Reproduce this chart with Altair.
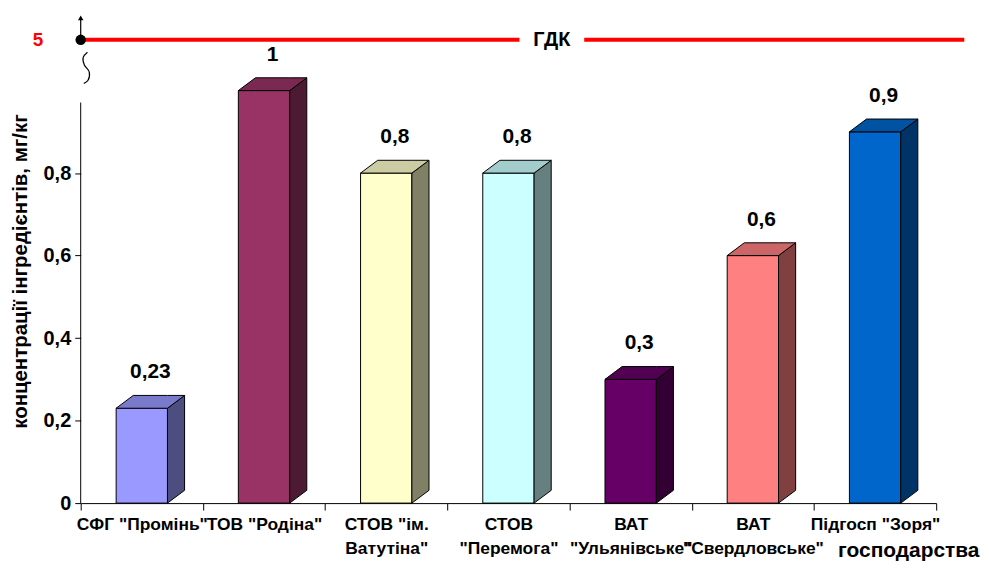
import altair as alt
import pandas as pd

# ---------------- data ----------------
categories = ['СФГ "Промінь"', 'ТОВ "Родіна"', 'СТОВ "ім.|Ватутіна"', 'СТОВ|"Перемога"',
              'ВАТ|"Ульянівське"', 'ВАТ|"Свердловське"', 'Підгосп "Зоря"']
values = [0.23, 1.0, 0.8, 0.8, 0.3, 0.6, 0.9]
value_text = ["0,23", "1", "0,8", "0,8", "0,3", "0,6", "0,9"]
front_colors = ["#9999FF", "#993366", "#FFFFCC", "#CCFFFF", "#660066", "#FF8080", "#0066CC"]
top_colors = ["#7A7ACC", "#7A2952", "#CCCCA3", "#A3CCCC", "#520052", "#CC6666", "#0052A3"]
side_colors = ["#4D4D80", "#4D1A33", "#808066", "#668080", "#330033", "#804040", "#003366"]
y_ticks = [0, 0.2, 0.4, 0.6, 0.8]
gdk_value_text = "5"
gdk_title = "ГДК"
y_title = "концентрації інгредієнтів, мг/кг"
x_title = "господарства"

# ---------------- layout params ----------------
FONT = "Liberation Sans"
BAR_L, BAR_R = 0.29, 0.71     # front face within band
DX, DY = 0.14, 0.031          # 3-D depth
Y_TOP = 1.125
AXIS_TOP = 0.971
GDK_POS = 1.123               # drawn position of the broken-axis value
ARROW_TOP = 1.176
GDK_SEGS = [(0.0, 3.59), (4.12, 7.23)]
GDK_TEXT_X = 3.855

xs = alt.Scale(domain=[0, 7], nice=False, zero=False)
ys = alt.Scale(domain=[0, Y_TOP], nice=False, zero=False)

n = len(categories)
front_df = pd.DataFrame({
    "i": list(range(n)),
    "x0": [i + BAR_L for i in range(n)],
    "x1": [i + BAR_R for i in range(n)],
    "y0": [0.0] * n,
    "v": values,
    "c": front_colors,
})
side_rows, top_rows = [], []
for i, v in enumerate(values):
    xr, xl = i + BAR_R, i + BAR_L
    side_rows += [dict(i=i, x=xr, lo=0.0, hi=v, c=side_colors[i]),
                  dict(i=i, x=xr + DX, lo=DY, hi=v + DY, c=side_colors[i])]
    top_rows += [dict(i=i, x=xl, lo=v, hi=v, c=top_colors[i]),
                 dict(i=i, x=xl + DX, lo=v, hi=v + DY, c=top_colors[i]),
                 dict(i=i, x=xr, lo=v, hi=v + DY, c=top_colors[i]),
                 dict(i=i, x=xr + DX, lo=v + DY, hi=v + DY, c=top_colors[i])]
side_df = pd.DataFrame(side_rows)
top_df = pd.DataFrame(top_rows)
label_df = pd.DataFrame({"x": [i + 0.5 + DX / 2 for i in range(n)], "v": values, "t": value_text})

tick_vals = [k / 2 for k in range(2 * n + 1)]
names_js = "['" + "','".join(categories) + "']"
label_expr = f"datum.value % 1 != 0 ? split({names_js}[floor(datum.value)], '|') : ''"

x_axis = alt.Axis(
    values=tick_vals, labelExpr=label_expr,
    tickOpacity={"condition": {"test": "datum.value % 1 != 0", "value": 0}, "value": 1},
    tickSize=7, tickColor="black", domainColor="black",
    labelFontSize=17.5, labelFontWeight="bold", labelColor="black", labelPadding=6,
    labelBaseline="top", labelLineHeight=24, labelAlign="center",
    labelFlush=False, labelOverlap=False, labelBound=False, grid=False,
    title=x_title, titleX=902, titleY=48, titleAlign="right", titleBaseline="middle",
    titleFontSize=21, titleFontWeight="bold", titleColor="black",
)
y_axis = alt.Axis(
    values=y_ticks, format=".1~f", labelExpr="replace(datum.label, '.', ',')",
    domain=False, tickSize=6, tickColor="black",
    labelFontSize=20, labelFontWeight="bold", labelColor="black", labelPadding=4, grid=False,
    title=y_title, titleFontSize=20.5, titleFontWeight="bold", titleColor="black",
    titleX=-60, titleY=233, titleAngle=270, titleAlign="center", titleBaseline="middle",
)


def X(field):
    return alt.X(field, scale=xs)


def Y(field):
    return alt.Y(field, scale=ys)


front = alt.Chart(front_df).mark_rect(stroke="black", strokeWidth=1).encode(
    x=alt.X("x0:Q", scale=xs, axis=x_axis), x2="x1:Q",
    y=alt.Y("y0:Q", scale=ys, axis=y_axis), y2="v:Q",
    fill=alt.Fill("c:N", scale=None),
)
side = alt.Chart(side_df).mark_area(stroke="black", strokeWidth=1, opacity=1).encode(
    x=X("x:Q"), y=Y("lo:Q"), y2="hi:Q",
    fill=alt.Fill("c:N", scale=None), detail="i:N",
)
top = alt.Chart(top_df).mark_area(stroke="black", strokeWidth=1, opacity=1).encode(
    x=X("x:Q"), y=Y("lo:Q"), y2="hi:Q",
    fill=alt.Fill("c:N", scale=None), detail="i:N",
)
labels = alt.Chart(label_df).mark_text(fontSize=21, fontWeight="bold", color="black",
                                       baseline="middle", dy=-36).encode(
    x=X("x:Q"), y=Y("v:Q"), text="t:N")

axis_line = alt.Chart(pd.DataFrame({"x": [0.0], "y": [0.0], "y2": [AXIS_TOP]})).mark_rule(
    color="black", strokeWidth=1).encode(x=X("x:Q"), y=Y("y:Q"), y2="y2:Q")

gdk_df = pd.DataFrame({"x": [s[0] for s in GDK_SEGS], "x2": [s[1] for s in GDK_SEGS],
                       "y": [GDK_POS] * len(GDK_SEGS)})
gdk_line = alt.Chart(gdk_df).mark_rule(color="#FF0000", strokeWidth=4).encode(
    x=X("x:Q"), x2="x2:Q", y=Y("y:Q"))
gdk_text = alt.Chart(pd.DataFrame({"x": [GDK_TEXT_X], "y": [GDK_POS], "t": [gdk_title]})).mark_text(
    fontSize=20, fontWeight="bold", color="black", baseline="middle").encode(
    x=X("x:Q"), y=Y("y:Q"), text="t:N")
five = alt.Chart(pd.DataFrame({"x": [0.0], "y": [GDK_POS], "t": [gdk_value_text]})).mark_text(
    fontSize=19, fontWeight="bold", color="#FF0000", baseline="middle", dx=-43).encode(
    x=X("x:Q"), y=Y("y:Q"), text="t:N")

arrow_rule = alt.Chart(pd.DataFrame({"x": [0.0], "y": [GDK_POS], "y2": [ARROW_TOP]})).mark_rule(
    color="black", strokeWidth=1.2).encode(x=X("x:Q"), y=Y("y:Q"), y2="y2:Q")
arrow_head = alt.Chart(pd.DataFrame({"x": [0.0], "y": [ARROW_TOP]})).mark_point(
    shape="triangle-up", filled=True, color="black", size=30, opacity=1).encode(
    x=X("x:Q"), y=Y("y:Q"))
dot = alt.Chart(pd.DataFrame({"x": [0.0], "y": [GDK_POS]})).mark_point(
    shape="circle", filled=True, color="black", size=110, opacity=1).encode(
    x=X("x:Q"), y=Y("y:Q"))

squig_x = [0.055, 0.02, 0.03, 0.07, 0.06, 0.025]
squig_y = [1.093, 1.08, 1.062, 1.045, 1.025, 1.017]
squiggle = alt.Chart(pd.DataFrame({"x": squig_x, "y": squig_y, "k": list(range(len(squig_x)))})).mark_line(
    color="black", strokeWidth=1.2, interpolate="catmull-rom").encode(
    x=X("x:Q"), y=Y("y:Q"), order="k:Q")

chart = alt.layer(
    front, side, top, axis_line, labels, gdk_line, gdk_text, five,
    arrow_rule, arrow_head, dot, squiggle,
).properties(
    width=859, height=466,
    autosize=alt.AutoSizeParams(type="none"),
    padding={"left": 73, "top": 30, "right": 45, "bottom": 59},
).configure_view(stroke=None).configure_axis(
    labelFont=FONT, titleFont=FONT
).configure_text(font=FONT)

chart.save("out.html", embed_options={"renderer": "svg", "actions": False})
